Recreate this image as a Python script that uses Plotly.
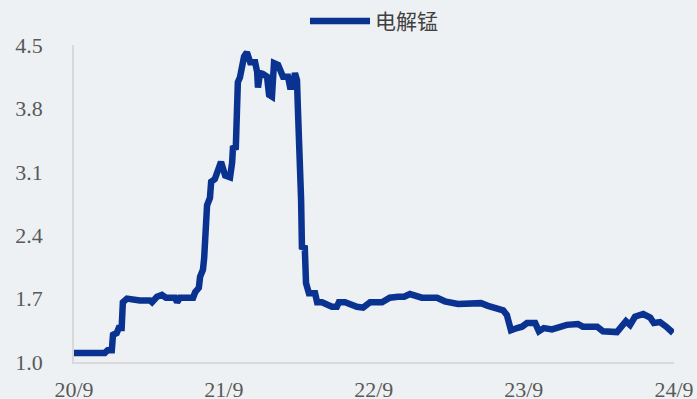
import plotly.graph_objects as go

dates = [
    "2020-09-01", "2020-11-15", "2020-11-22", "2020-12-02", "2020-12-05", "2020-12-14",
    "2020-12-19", "2020-12-26", "2020-12-29", "2021-01-08", "2021-02-08", "2021-03-05",
    "2021-03-10", "2021-03-22", "2021-04-03", "2021-04-13", "2021-05-05", "2021-05-10",
    "2021-05-17", "2021-06-18", "2021-06-23", "2021-07-02", "2021-07-05", "2021-07-12",
    "2021-07-15", "2021-07-17", "2021-07-19", "2021-07-22", "2021-07-29", "2021-08-01",
    "2021-08-10", "2021-08-18", "2021-08-25", "2021-09-04", "2021-09-16", "2021-09-21",
    "2021-09-23", "2021-09-30", "2021-10-03", "2021-10-05", "2021-10-10", "2021-10-15",
    "2021-10-20", "2021-10-27", "2021-11-04", "2021-11-16", "2021-11-21", "2021-11-23",
    "2021-11-28", "2021-12-05", "2021-12-15", "2021-12-20", "2021-12-27", "2022-01-01",
    "2022-01-11", "2022-01-23", "2022-02-04", "2022-02-09", "2022-02-16", "2022-02-21",
    "2022-02-26", "2022-02-28", "2022-03-05", "2022-03-08", "2022-03-10", "2022-03-17",
    "2022-03-20", "2022-03-27", "2022-04-11", "2022-04-16", "2022-04-28", "2022-05-10",
    "2022-05-22", "2022-06-03", "2022-06-08", "2022-06-23", "2022-07-03", "2022-07-12",
    "2022-07-22", "2022-08-06", "2022-08-13", "2022-08-23", "2022-09-21", "2022-10-10",
    "2022-10-30", "2022-11-14", "2022-11-28", "2022-12-13", "2022-12-27", "2023-02-02",
    "2023-02-21", "2023-03-25", "2023-05-05", "2023-05-20", "2023-06-06", "2023-06-21",
    "2023-07-13", "2023-07-22", "2023-08-01", "2023-08-16", "2023-08-28", "2023-09-09",
    "2023-09-29", "2023-10-08", "2023-10-20", "2023-11-09", "2023-11-28", "2023-12-15",
    "2024-01-11", "2024-01-23", "2024-02-27", "2024-03-12", "2024-04-15", "2024-04-25",
    "2024-05-07", "2024-05-17", "2024-05-29", "2024-06-18", "2024-07-05", "2024-07-14",
    "2024-07-29", "2024-08-13", "2024-08-30",
]

values = [
    1.10, 1.10, 1.13, 1.13, 1.30, 1.32,
    1.375, 1.375, 1.66, 1.70, 1.68, 1.68,
    1.66, 1.72, 1.74, 1.71, 1.71, 1.66,
    1.71, 1.71, 1.77, 1.82, 1.94, 2.02,
    2.15, 2.40, 2.57, 2.73, 2.81, 2.99,
    3.02, 3.12, 3.21, 3.06, 3.04, 3.20,
    3.36, 3.37, 3.73, 4.09, 4.14, 4.33,
    4.37, 4.42, 4.31, 4.31, 4.20, 4.03,
    4.19, 4.18, 4.15, 3.95, 3.93, 4.30,
    4.28, 4.15, 4.15, 4.04, 4.04, 4.19,
    4.11, 3.82, 3.34, 2.79, 2.27, 2.26,
    1.87, 1.76, 1.76, 1.66, 1.66, 1.63,
    1.61, 1.61, 1.66, 1.66, 1.64, 1.64,
    1.61, 1.60, 1.63, 1.66, 1.66, 1.71,
    1.72, 1.72, 1.75, 1.73, 1.71, 1.71,
    1.67, 1.64, 1.64, 1.65, 1.62, 1.60,
    1.57, 1.52, 1.35, 1.375, 1.39, 1.43,
    1.43, 1.34, 1.375, 1.36, 1.39, 1.41,
    1.42, 1.39, 1.39, 1.34, 1.33, 1.39,
    1.45, 1.41, 1.50, 1.53, 1.49, 1.43,
    1.44, 1.39, 1.32,
]

series_name = "电解锰"
x_tick_vals = ["2020-09-01", "2021-09-01", "2022-09-01", "2023-09-01", "2024-09-01"]
x_tick_text = ["20/9", "21/9", "22/9", "23/9", "24/9"]
y_tick_vals = [1.0, 1.7, 2.4, 3.1, 3.8, 4.5]
y_tick_text = ["1.0", "1.7", "2.4", "3.1", "3.8", "4.5"]

bg = "#eef1f3"
tick_font = dict(family="Liberation Serif", size=22, color="#595959")

fig = go.Figure()
fig.add_trace(go.Scatter(
    x=dates, y=values, mode="lines", name=series_name,
    line=dict(color="#0a3391", width=6.5, shape="linear"),
))

fig.update_layout(
    width=697, height=399,
    paper_bgcolor=bg, plot_bgcolor=bg,
    margin=dict(l=74, r=23, t=45, b=37, autoexpand=False),
    showlegend=True,
    legend=dict(
        orientation="h", x=0.5, xanchor="center", y=1.01, yanchor="bottom",
        font=dict(family="Noto Sans CJK SC", size=21, color="#404040"),
        bgcolor="rgba(0,0,0,0)", itemwidth=60,
    ),
    xaxis=dict(
        type="date", range=["2020-09-01", "2024-09-01"],
        tickmode="array", tickvals=x_tick_vals, ticktext=x_tick_text,
        showgrid=False, zeroline=False,
        showline=True, linecolor="#d9d9d9", linewidth=1.5,
        ticks="", tickfont=tick_font, ticklabelstandoff=7,
    ),
    yaxis=dict(
        range=[1.0, 4.5],
        tickmode="array", tickvals=y_tick_vals, ticktext=y_tick_text,
        showgrid=False, zeroline=False,
        showline=True, linecolor="#d9d9d9", linewidth=1.5,
        ticks="", tickfont=tick_font, ticklabelstandoff=25,
    ),
)

fig.write_html(
    "out.html",
    config={"displayModeBar": False},
    post_script="document.body.style.margin='0';document.body.style.padding='0';"
                "document.body.style.background='#eef1f3';",
)
